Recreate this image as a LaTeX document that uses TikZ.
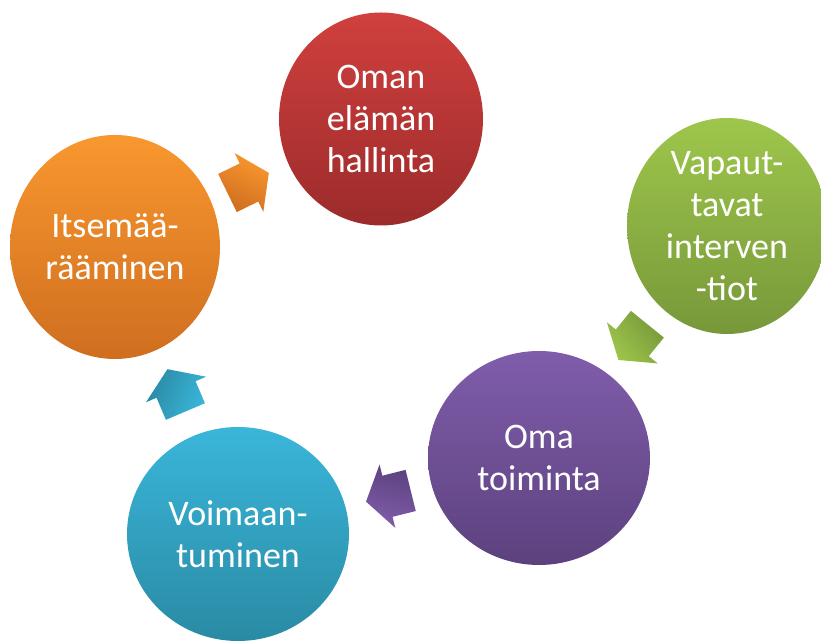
\documentclass[tikz,border=0pt]{standalone}
\usepackage{fontspec}
\setmainfont{Carlito}
\usetikzlibrary{shapes.geometric}
\usetikzlibrary{shapes.arrows}
\usetikzlibrary{calc}

\definecolor{redtop}{HTML}{D0403E}
\definecolor{redbot}{HTML}{9C2B2B}
\definecolor{greentop}{HTML}{9EC64B}
\definecolor{greenbot}{HTML}{77983A}
\definecolor{purpletop}{HTML}{805DAB}
\definecolor{purplebot}{HTML}{5C417E}
\definecolor{bluetop}{HTML}{3AB6DA}
\definecolor{bluebot}{HTML}{2A8AA4}
\definecolor{orangetop}{HTML}{F9972F}
\definecolor{orangebot}{HTML}{CF6E1F}

\begin{document}
\begin{tikzpicture}[x=1pt, y=1pt,
  stage/.style={ellipse, inner sep=0pt, text=white, align=center,
    font=\fontsize{36}{42}\selectfont},
  cyclearrow/.style={single arrow, inner xsep=0pt, inner ysep=21pt,
    minimum height=46pt, single arrow head extend=11.5pt,
    single arrow tip angle=112}
]
  % keep the page as large as the reference
  \useasboundingbox (0,0) rectangle (821,642);

  % the five stages of the cycle
  \node[stage, minimum width=204pt, minimum height=213pt,
    top color=redtop, bottom color=redbot] (hallinta) at (381,523) {Oman\\elämän\\hallinta};
  \node[stage, minimum width=200pt, minimum height=216pt,
    top color=greentop, bottom color=greenbot] (interv) at (727,416) {Vapaut-\\tavat\\interven\\-tiot};
  \node[stage, minimum width=222pt, minimum height=214pt,
    top color=purpletop, bottom color=purplebot] (toiminta) at (539,184) {Oma\\toiminta};
  \node[stage, minimum width=222pt, minimum height=214pt,
    top color=bluetop, bottom color=bluebot] (voima) at (238,108) {Voimaan-\\tuminen};
  \node[stage, minimum width=210pt, minimum height=224pt,
    top color=orangetop, bottom color=orangebot] (itse) at (115,395) {Itsemää-\\rääminen};

  % block arrows half way between the stages (pulled back a little)
  \node[cyclearrow, rotate=26, xshift=-7pt, top color=orangetop, bottom color=orangebot,
    shading angle=-26] (a1) at ($(itse)!0.5!(hallinta)$) {};
  \node[cyclearrow, rotate=231, xshift=-7pt, top color=greentop, bottom color=greenbot,
    shading angle=-231] (a2) at ($(interv)!0.5!(toiminta)$) {};
  \node[cyclearrow, rotate=194, xshift=-7pt, top color=purpletop, bottom color=purplebot,
    shading angle=-194] (a3) at ($(toiminta)!0.5!(voima)$) {};
  \node[cyclearrow, rotate=113, xshift=-7pt, top color=bluetop, bottom color=bluebot,
    shading angle=-113] (a4) at ($(voima)!0.5!(itse)$) {};
\end{tikzpicture}
\end{document}
